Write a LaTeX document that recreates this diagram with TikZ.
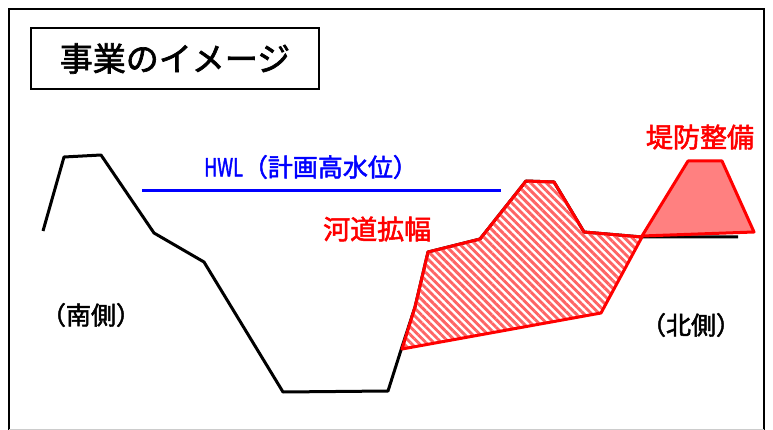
\documentclass[tikz,border=0pt]{standalone}
\usepackage{fontspec}
\usepackage{graphicx}
\setmainfont{Noto Sans CJK JP}[FakeBold=2]
\usetikzlibrary{patterns.meta}
\tikzset{
  ground/.style={draw=black, line width=3pt, line join=round},
  redline/.style={draw=red, line width=3pt, line join=round},
  lbl/.style={inner sep=0pt, font=#1},
}
\begin{document}
\begin{tikzpicture}[x=1pt,y=-1pt]
\useasboundingbox (0,0) rectangle (773,430);
\fill[white] (0,0) rectangle (773,430);
% outer frame
\draw[line width=2pt] (9,430) -- (9,9) -- (764,9) -- (764,430);
\draw[gray!40, line width=1pt] (9,429.5) -- (764,429.5);
% title
\node[draw, line width=2pt, minimum width=288pt, minimum height=61pt, inner sep=0pt, font=\fontsize{33}{33}\selectfont] (title) at (175,58.5) {事業のイメージ};
% ground profile
\draw[ground] (43,231) -- (64,157) -- (101,155) -- (154,233) -- (204,262) -- (283,392) -- (388,391) -- (401,350) -- (415,307) -- (428,252) -- (480,239) -- (526,181) -- (554,182) -- (584,232) -- (642,237) -- (738,237);
% HWL line
\draw[blue, line width=3pt] (142,191) -- (501,191);
\node[lbl={\fontsize{25}{25}\selectfont}, text=blue, anchor=west] (hwl) at (204,167) {\scalebox{0.72}[1]{HWL}（計画高水位）};
% channel widening area
\fill[pattern={Lines[angle=-45, distance=5.5pt, line width=2.9pt]}, pattern color={rgb,255:red,255;green,100;blue,100}]
  (402,349) -- (415,307) -- (428,252) -- (480,239) -- (526,181) -- (554,182) -- (584,232) -- (642,237) -- (601,313) -- cycle;
\draw[redline] (402,349) -- (415,307) -- (428,252) -- (480,239) -- (526,181) -- (554,182) -- (584,232) -- (642,237) -- (601,313) -- cycle;
% levee
\filldraw[redline, fill={rgb,255:red,255;green,128;blue,128}] (642,236) -- (688,161) -- (722,161) -- (754,232) -- cycle;
% labels
\node[lbl={\fontsize{27}{27}\selectfont}, text=red, anchor=west] (kado) at (323,229) {河道拡幅};
\node[lbl={\fontsize{27}{27}\selectfont}, text=red] (teibo) at (700,137) {堤防整備};
\node[lbl={\fontsize{25}{25}\selectfont}] (south) at (91,315) {（南側）};
\node[lbl={\fontsize{25}{25}\selectfont}] (north) at (691,325) {（北側）};
\end{tikzpicture}
\end{document}
